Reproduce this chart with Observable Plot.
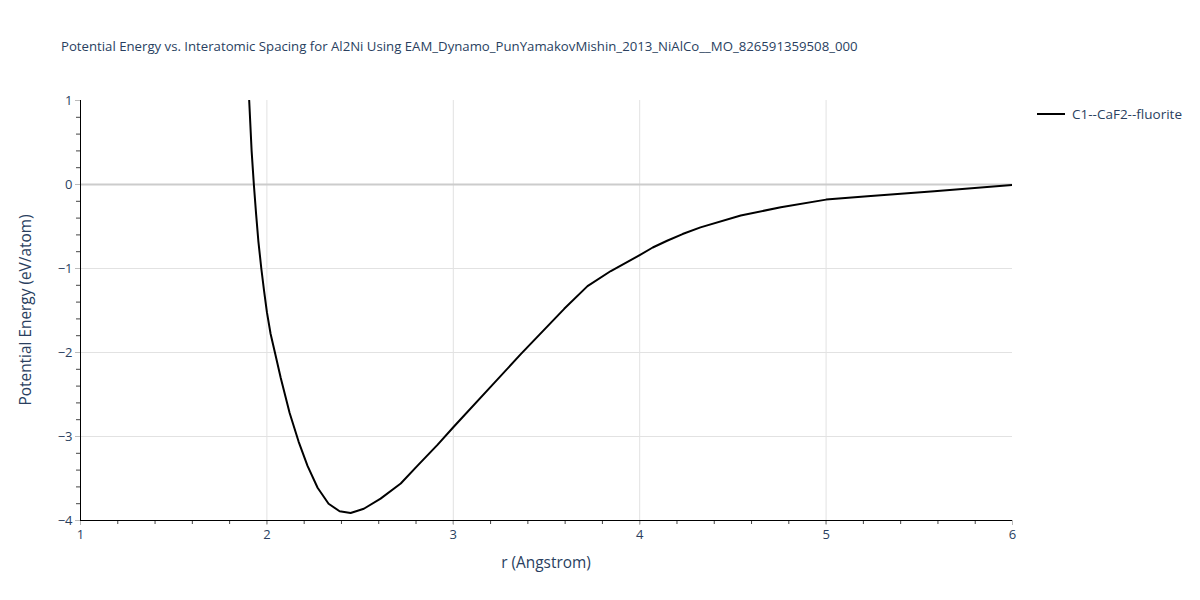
<!DOCTYPE html>
<html>
<head>
<meta charset="utf-8">
<script src="https://cdn.jsdelivr.net/npm/d3@7"></script>
<script src="https://cdn.jsdelivr.net/npm/@observablehq/plot@0.6"></script>
<style>
  html, body { margin: 0; padding: 0; background: #fff; }
  #wrap { position: relative; width: 1200px; height: 600px; font-family: "Open Sans", Verdana, sans-serif; color: #2a3f5f; }
  #title { position: absolute; left: 61px; top: 37px; font-size: 13.2px; white-space: nowrap; }
  #xtitle { position: absolute; left: 546px; top: 552px; font-size: 15.4px; transform: translateX(-50%); white-space: nowrap; }
  #ytitle { position: absolute; left: 25px; top: 310px; font-size: 15.4px; transform: translate(-50%, -50%) rotate(-90deg); white-space: nowrap; }
  #legend { position: absolute; left: 1037px; top: 105px; font-size: 13.5px; display: flex; align-items: center; white-space: nowrap; }
  #legend .sw { width: 28px; height: 2px; background: #000; margin-right: 7px; }
  #chart { position: absolute; left: 0; top: 0; }
</style>
</head>
<body>
<div id="wrap">
  <div id="chart"></div>
  <div id="title">Potential Energy vs. Interatomic Spacing for Al2Ni Using EAM_Dynamo_PunYamakovMishin_2013_NiAlCo__MO_826591359508_000</div>
  <div id="xtitle">r (Angstrom)</div>
  <div id="ytitle">Potential Energy (eV/atom)</div>
  <div id="legend"><span class="sw"></span><span>C1--CaF2--fluorite</span></div>
</div>
<script>
// Data
const seriesName = "C1--CaF2--fluorite";
const rValues = [1.905, 1.918, 1.930, 1.942, 1.954, 1.970, 1.985, 2.000, 2.020, 2.043, 2.074, 2.122, 2.170, 2.218, 2.272, 2.331, 2.390, 2.449, 2.520, 2.610, 2.718, 2.807, 2.915, 3.000, 3.200, 3.362, 3.595, 3.720, 3.845, 4.000, 4.070, 4.147, 4.230, 4.326, 4.542, 4.757, 5.000, 5.222, 5.580, 6.000];
const energyValues = [1.0, 0.40, 0.0, -0.35, -0.67, -1.0, -1.27, -1.52, -1.78, -2.0, -2.30, -2.72, -3.06, -3.35, -3.61, -3.80, -3.89, -3.91, -3.86, -3.74, -3.56, -3.35, -3.10, -2.89, -2.41, -2.02, -1.48, -1.21, -1.03, -0.84, -0.75, -0.67, -0.59, -0.51, -0.37, -0.27, -0.18, -0.14, -0.08, -0.005];
const xTicks = [1, 2, 3, 4, 5, 6];
const yTicks = [1, 0, -1, -2, -3, -4];
const xGrid = [2, 3, 4, 5];
const yGrid = [-1, -2, -3];
const xMinor = d3.range(1, 6.001, 0.2).map(v => +v.toFixed(1));
const yMinor = d3.range(-4, 1.001, 0.2).map(v => +v.toFixed(1));

const data = rValues.map((r, i) => ({r, e: energyValues[i], s: seriesName}));
const fmt = v => (v < 0 ? "\u2212" + Math.abs(v) : String(v));

const chart = Plot.plot({
  width: 1200,
  height: 600,
  marginLeft: 80,
  marginRight: 188,
  marginTop: 100,
  marginBottom: 80,
  style: {fontFamily: "'Open Sans', Verdana, sans-serif", fontSize: "13px", color: "#2a3f5f", background: "transparent"},
  x: {domain: [1, 6]},
  y: {domain: [-4, 1]},
  marks: [
    Plot.gridX(xGrid, {stroke: "#e2e2e2", strokeOpacity: 1, strokeWidth: 1}),
    Plot.gridY(yGrid, {stroke: "#e2e2e2", strokeOpacity: 1, strokeWidth: 1}),
    Plot.ruleY([0], {stroke: "#cccccc", strokeWidth: 2}),
    Plot.axisX(xMinor, {tickSize: 4, tickFormat: null, text: null, stroke: "#444", label: null}),
    Plot.axisY(yMinor, {tickSize: 4, tickFormat: null, text: null, stroke: "#444", label: null}),
    Plot.axisX(xTicks, {tickSize: 5, tickPadding: 4, stroke: "#bbb", tickFormat: fmt, label: null, fill: "#2a3f5f", fontSize: 13}),
    Plot.axisY(yTicks, {tickSize: 5, tickPadding: 3, stroke: "#bbb", tickFormat: fmt, label: null, fill: "#2a3f5f", fontSize: 13}),
    Plot.line(data, {x: "r", y: "e", stroke: "#000", strokeWidth: 2, curve: "linear", clip: true}),
    Plot.ruleX([1], {stroke: "#000", strokeWidth: 1}),
    Plot.ruleY([-4], {stroke: "#000", strokeWidth: 1})
  ]
});
document.getElementById("chart").appendChild(chart);
</script>
</body>
</html>
